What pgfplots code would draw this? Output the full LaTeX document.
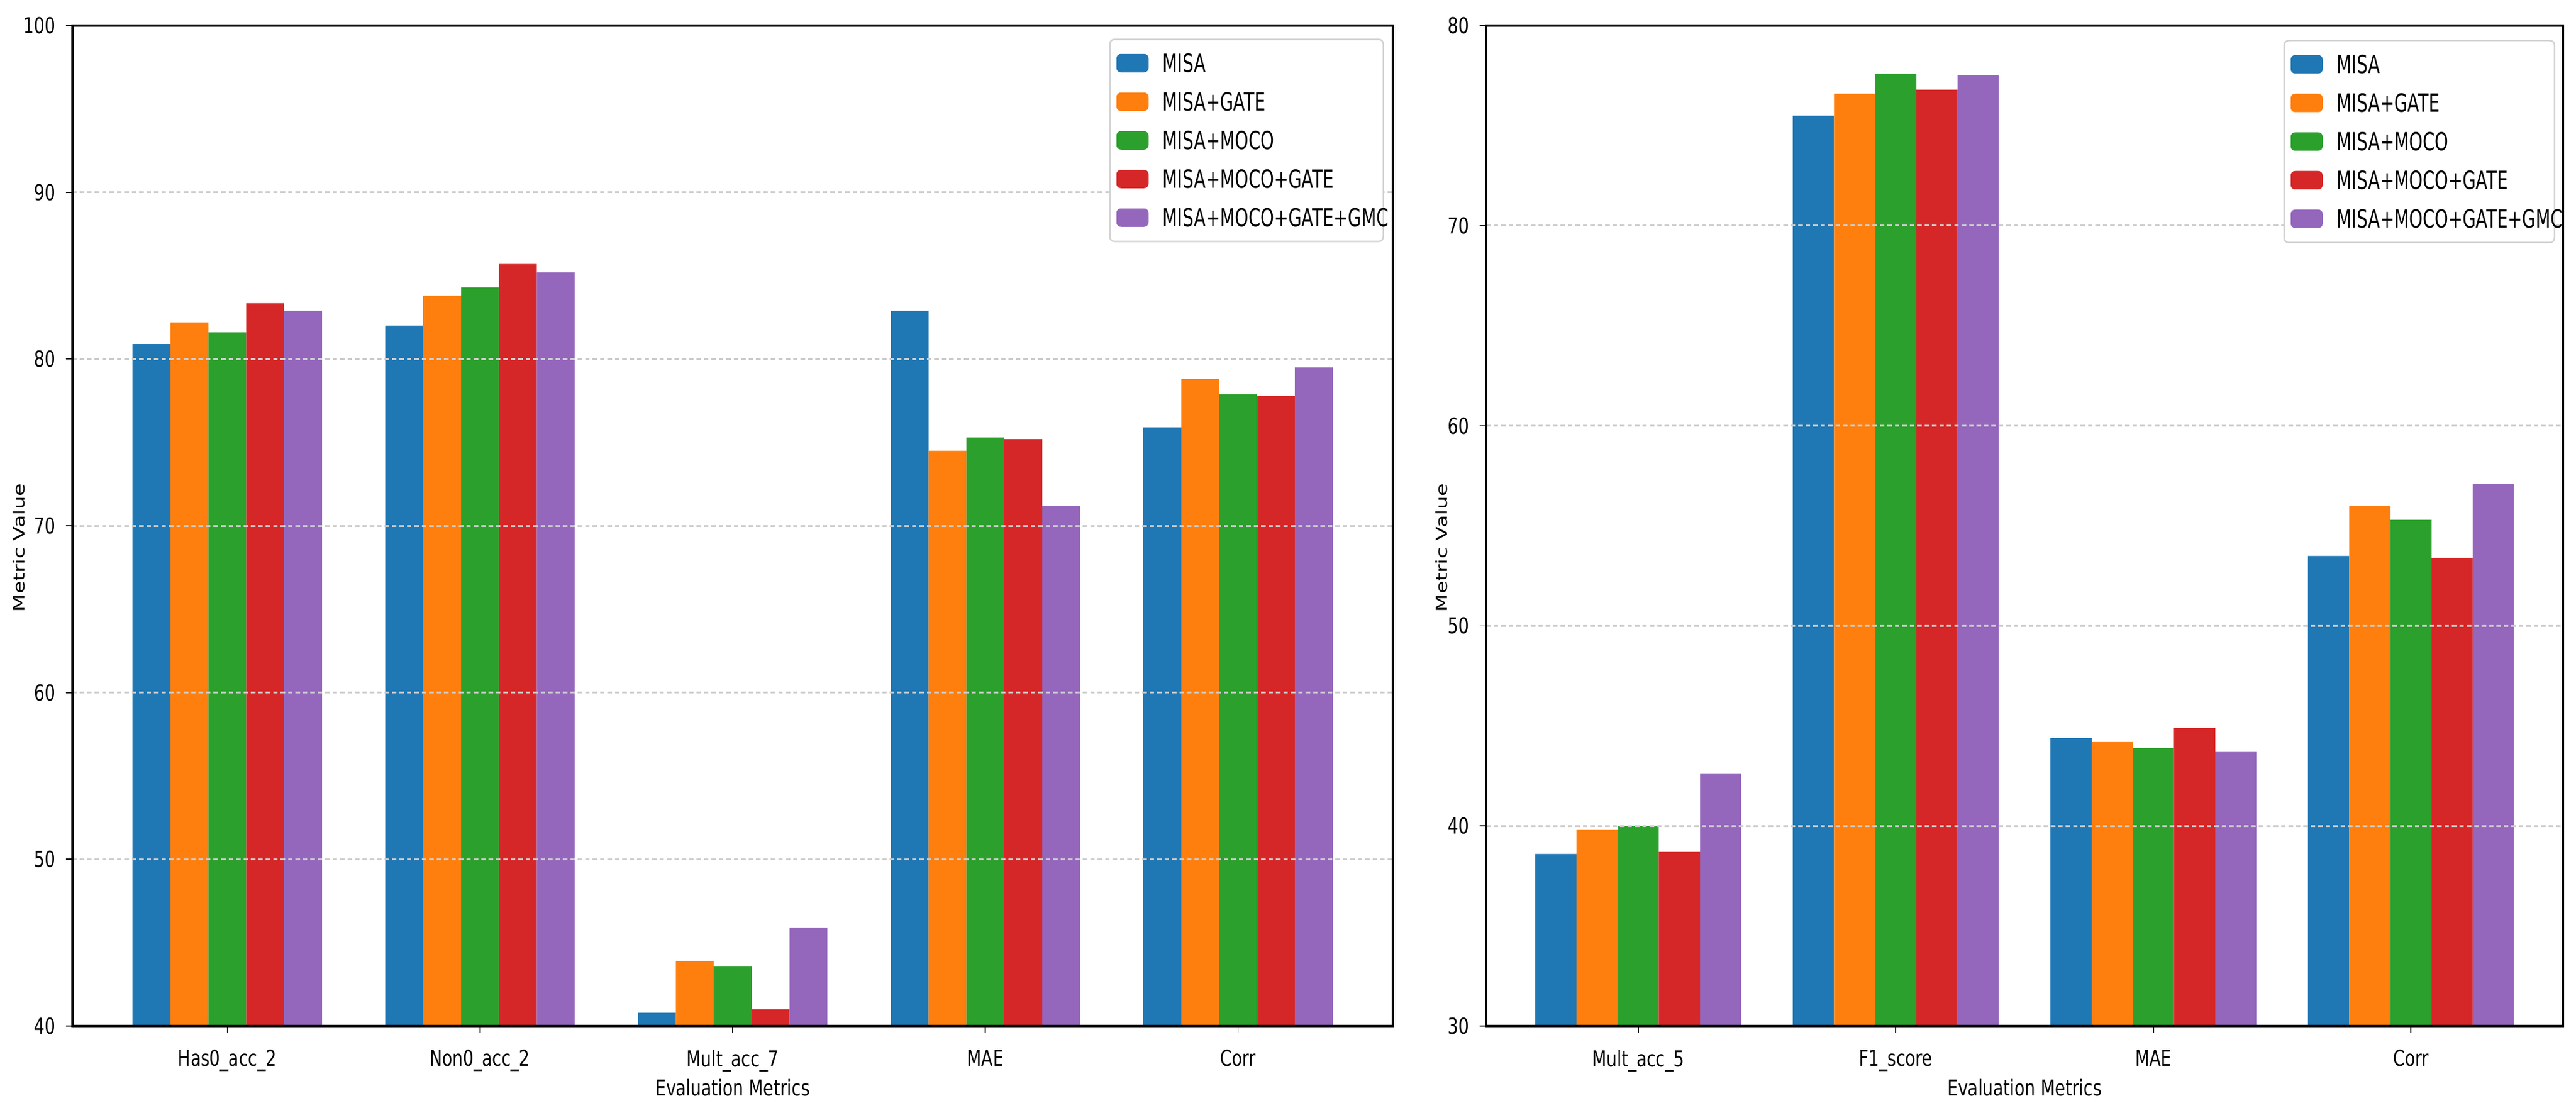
\documentclass[border=0pt]{standalone}
\usepackage{fontspec}
\setmainfont{DejaVu Sans}
\newfontfamily\tickfont{DejaVu Sans}[FakeStretch=0.76]
\newfontfamily\legfont{DejaVu Sans}[FakeStretch=0.69]
\newfontfamily\ylabfont{DejaVu Sans}
\usepackage{pgfplots}
\pgfplotsset{compat=1.18}
\definecolor{c1}{HTML}{1F77B4}
\definecolor{c2}{HTML}{FF7F0E}
\definecolor{c3}{HTML}{2CA02C}
\definecolor{c4}{HTML}{D62728}
\definecolor{c5}{HTML}{9467BD}
\pgfplotsset{
  sbar/.style n args={2}{ybar, bar shift=#1, fill=#2, draw=none,
    legend image code/.code={\fill[#2] (0pt,-3.1pt) rectangle (10.8pt,3.1pt);}},
  common/.style={
    scale only axis, height=336.8pt, axis on top,
    axis line style={line width=0.65pt, black},
    tick align=outside, tick pos=left,
    major tick length=2.2pt,
    tick style={line width=0.35pt, black},
    ymajorgrids,
    major grid style={dash pattern=on 1.5pt off 1pt, line width=0.6pt, gray!40},
    xtick=data,
    /pgf/number format/assume math mode=true,
    ticklabel style={font=\tickfont\fontsize{7.4}{8}\selectfont},
    xticklabel style={yshift=-2.3pt},
    xlabel={Evaluation Metrics},
    ylabel={\scalebox{1}[0.74]{Metric Value}},
    xlabel style={at={(axis description cs:0.5,0)}, anchor=north, yshift=-17.6pt, inner sep=0pt,
      font=\tickfont\fontsize{7.4}{8}\selectfont},
    legend cell align=left,
    legend style={at={(rel axis cs:1,1)}, anchor=north east,
      draw=gray!35, line width=0.5pt, rounded corners=1.5pt, fill=white,
      inner xsep=2.2pt, inner ysep=4.9pt, row sep=6.8pt,
      font=\legfont\fontsize{8.4}{8.4}\selectfont,
      nodes={inner sep=0pt, text height=6.2pt, text depth=0pt},
      /tikz/every odd column/.style={column sep=4.8pt}},
  }
}
\begin{document}
\begin{tikzpicture}
\useasboundingbox (0,0) rectangle (867pt,372.8pt);
% ---------- left ----------
\begin{axis}[common,
  at={(24.4pt,27.4pt)}, anchor=south west, width=444.4pt,
  xmin=-0.6125, xmax=4.6125, ymin=40, ymax=100, ytick={40,50,...,100},
  bar width=0.15,
  xticklabels={Has0\_acc\_2, Non0\_acc\_2, Mult\_acc\_7, MAE, Corr},
  ylabel style={at={(axis description cs:-0.0405,0.478)}, anchor=center, inner sep=0pt,
    font=\ylabfont\fontsize{7}{7}\selectfont},
  legend style={xshift=-3pt, yshift=-4.4pt, nodes={text width=72pt}},
]
\addplot[sbar={-0.3}{c1}] coordinates {(0,80.9) (1,82.0) (2,40.8) (3,82.9) (4,75.9)};
\addplot[sbar={-0.15}{c2}] coordinates {(0,82.2) (1,83.8) (2,43.9) (3,74.5) (4,78.8)};
\addplot[sbar={0}{c3}] coordinates {(0,81.6) (1,84.3) (2,43.6) (3,75.3) (4,77.9)};
\addplot[sbar={0.15}{c4}] coordinates {(0,83.35) (1,85.7) (2,41.0) (3,75.2) (4,77.8)};
\addplot[sbar={0.3}{c5}] coordinates {(0,82.9) (1,85.2) (2,45.9) (3,71.2) (4,79.5)};
\legend{MISA, MISA+GATE, MISA+MOCO, MISA+MOCO+GATE, MISA+MOCO+GATE+GMC}
\end{axis}
% ---------- right ----------
\begin{axis}[common,
  at={(500.2pt,27.4pt)}, anchor=south west, width=362.4pt,
  xmin=-0.59, xmax=3.59, ymin=30, ymax=80, ytick={30,40,...,80},
  bar width=0.16,
  xticklabels={Mult\_acc\_5, F1\_score, MAE, Corr},
  ylabel style={at={(axis description cs:-0.0414,0.478)}, anchor=center, inner sep=0pt,
    font=\ylabfont\fontsize{7}{7}\selectfont},
  legend style={xshift=-2.6pt, yshift=-4.8pt, nodes={text width=71pt}},
]
\addplot[sbar={-0.32}{c1}] coordinates {(0,38.6) (1,75.5) (2,44.4) (3,53.5)};
\addplot[sbar={-0.16}{c2}] coordinates {(0,39.8) (1,76.6) (2,44.2) (3,56.0)};
\addplot[sbar={0}{c3}] coordinates {(0,40.0) (1,77.6) (2,43.9) (3,55.3)};
\addplot[sbar={0.16}{c4}] coordinates {(0,38.7) (1,76.8) (2,44.9) (3,53.4)};
\addplot[sbar={0.32}{c5}] coordinates {(0,42.6) (1,77.5) (2,43.7) (3,57.1)};
\legend{MISA, MISA+GATE, MISA+MOCO, MISA+MOCO+GATE, MISA+MOCO+GATE+GMC}
\end{axis}
\end{tikzpicture}
\end{document}
